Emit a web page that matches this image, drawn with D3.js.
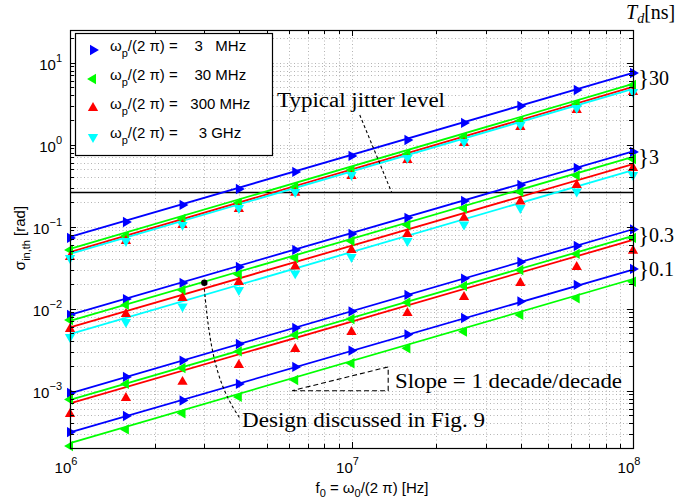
<!DOCTYPE html>
<html>
<head>
<meta charset="utf-8">
<script src="https://cdn.jsdelivr.net/npm/d3@7"></script>
<style>
body { margin: 0; background: #fff; }
text { white-space: pre; }
</style>
</head>
<body>
<script>
var width = 681;
var height = 501;
var left = 70, right = 633, top_ = 30, bottom = 448;

// f0 = omega0/(2 pi) [Hz], where the simulated points sit
var f0 = [1e6, 1.58e6, 2.51e6, 3.98e6, 6.31e6, 1e7, 1.58e7, 2.51e7, 3.98e7, 6.31e7, 1e8];

// series order: 3 MHz (blue), 30 MHz (green), 300 MHz (red), 3 GHz (cyan)
var series_labels = ["    3   MHz", "    30 MHz", "   300 MHz", "     3 GHz"];
var series_colors = ["#0000ff", "#00ff00", "#ff0000", "#00ffff"];

// theory lines, value at f0 = 1 MHz and at f0 = 100 MHz
var fit_td30_start = [0.075, 0.0535, 0.049, 0.0465];
var fit_td30_end = [7.5, 5.5, 5.05, 4.78];
var fit_td3_start = [0.0084, 0.0071, 0.0059, 0.0049];
var fit_td3_end = [0.83, 0.71, 0.58, 0.49];
var fit_td03_start = [0.00093, 0.00077, 0.0007];
var fit_td03_end = [0.093, 0.077, 0.069];
var fit_td01_start = [0.00031, 0.00023];
var fit_td01_end = [0.030, 0.023];

// simulated points
var td30_blue = [0.0728, 0.114, 0.184, 0.288, 0.465, 0.728, 1.14, 1.84, 2.96, 4.64, 7.48];
var td30_green = [0.052, 0.0769, 0.124, 0.195, 0.305, 0.491, 0.769, 1.24, 1.95, 3.13, 5.35];
var td30_red = [0.0427, 0.0668, 0.105, 0.164, 0.258, 0.415, 0.650, 1.05, 1.64, 2.65, 4.39];
var td30_cyan = [0.0415, 0.0668, 0.105, 0.169, 0.265, 0.427, 0.689, 1.08, 1.74, 2.80, 4.39];

var td3_blue = [0.00838, 0.0131, 0.0206, 0.0322, 0.052, 0.0815, 0.128, 0.206, 0.322, 0.52, 0.815];
var td3_green = [0.00728, 0.0111, 0.0169, 0.0261, 0.0415, 0.0668, 0.105, 0.167, 0.265, 0.421, 0.668];
var td3_red = [0.00565, 0.00861, 0.0135, 0.0211, 0.0327, 0.052, 0.0815, 0.128, 0.203, 0.322, 0.52];
var td3_cyan = [0.00452, 0.00689, 0.0106, 0.0169, 0.0269, 0.0427, 0.0668, 0.106, 0.169, 0.2685, 0.427];

var td03_blue = [0.000938, 0.00147, 0.00233, 0.00371, 0.00581, 0.00925, 0.0147, 0.0233, 0.0371, 0.0581, 0.0925];
var td03_green = [0.00078, 0.00121, 0.00189, 0.00301, 0.00478, 0.00748, 0.0119, 0.0189, 0.0296, 0.0465, 0.0728];
var td03_red = [0.00052, 0.000815, 0.00128, 0.00206, 0.00322, 0.0052, 0.00885, 0.0139, 0.0206, 0.0322, 0.0509];

var td01_blue = [0.000313, 0.000491, 0.000759, 0.00121, 0.00195, 0.00308, 0.00484, 0.00769, 0.01225, 0.0195, 0.0305];
var td01_green = [0.000211, 0.000337, 0.00053, 0.000838, 0.00135, 0.00216, 0.00329, 0.00524, 0.00838, 0.0134, 0.0213];

var td_labels = ["30", "3", "0.3", "0.1"];
var td_label_values = [6.4, 0.68, 0.078, 0.030];

var jitter_level = 0.26;
var design_point = [3.0e6, 0.0207];

var svg = d3.select("body")
    .append("svg")
    .attr("width", width)
    .attr("height", height)
    .style("font-family", "'Liberation Sans', Arial, sans-serif");

var x = d3.scaleLog().domain([1e6, 1e8]).range([left, right]);
var y = d3.scaleLog().domain([2e-4, 25]).range([bottom, top_]);

function is_major(t) {
    var l = Math.log10(t);
    return Math.abs(l - Math.round(l)) < 1e-6;
}

var xt = x.ticks();
var yt = y.ticks().filter(function(t) { return t >= 2e-4 * 0.999 && t <= 25; });

// dotted grid
var grid = svg.append("g")
    .attr("stroke", "#b4b4b4")
    .attr("stroke-width", 1)
    .attr("stroke-dasharray", "1,2.5");

grid.selectAll("line.gx")
    .data(xt.filter(function(t) { return t > 1e6 && t < 1e8; }))
    .enter()
    .append("line")
    .attr("class", "gx")
    .attr("x1", function(d) { return Math.round(x(d)) + 0.5; })
    .attr("x2", function(d) { return Math.round(x(d)) + 0.5; })
    .attr("y1", top_)
    .attr("y2", bottom);

grid.selectAll("line.gy")
    .data(yt)
    .enter()
    .append("line")
    .attr("class", "gy")
    .attr("x1", left)
    .attr("x2", right)
    .attr("y1", function(d) { return Math.round(y(d)) + 0.5; })
    .attr("y2", function(d) { return Math.round(y(d)) + 0.5; });

// jitter level
svg.append("line")
    .attr("x1", left)
    .attr("x2", right)
    .attr("y1", y(jitter_level))
    .attr("y2", y(jitter_level))
    .attr("stroke", "#000")
    .attr("stroke-width", 1.5);

// theory lines
var fits = [
    [fit_td30_start, fit_td30_end],
    [fit_td3_start, fit_td3_end],
    [fit_td03_start, fit_td03_end],
    [fit_td01_start, fit_td01_end]
];
fits.forEach(function(g) {
    g[0].forEach(function(v, i) {
        svg.append("line")
            .attr("x1", x(1e6))
            .attr("y1", y(v))
            .attr("x2", x(1e8))
            .attr("y2", y(g[1][i]))
            .attr("stroke", series_colors[i])
            .attr("stroke-width", 1.8);
    });
});

// markers
var rot = [90, -90, 0, 180];
var tri = d3.symbol().type(d3.symbolTriangle).size(46);

function draw_points(vals, s) {
    svg.append("g").selectAll("path")
        .data(vals)
        .enter()
        .append("path")
        .attr("d", tri)
        .attr("fill", series_colors[s])
        .attr("transform", function(d, i) {
            return "translate(" + x(f0[i]) + "," + y(d) + ") rotate(" + rot[s] + ")";
        });
}

var point_sets = [
    [td30_blue, 0], [td3_blue, 0], [td03_blue, 0], [td01_blue, 0],
    [td30_green, 1], [td3_green, 1], [td03_green, 1], [td01_green, 1],
    [td30_red, 2], [td3_red, 2], [td03_red, 2],
    [td30_cyan, 3], [td3_cyan, 3]
];
point_sets.forEach(function(p) { draw_points(p[0], p[1]); });

// ticks, on all four sides, pointing in
var ticks = svg.append("g").attr("stroke", "#000").attr("stroke-width", 1);
xt.forEach(function(t) {
    var len = is_major(t) ? 6 : 4;
    var px = Math.round(x(t)) + 0.5;
    ticks.append("line").attr("x1", px).attr("x2", px).attr("y1", bottom).attr("y2", bottom - len);
    ticks.append("line").attr("x1", px).attr("x2", px).attr("y1", top_).attr("y2", top_ + len);
});
yt.forEach(function(t) {
    var len = is_major(t) ? 6 : 4;
    var py = Math.round(y(t)) + 0.5;
    ticks.append("line").attr("x1", left).attr("x2", left + len).attr("y1", py).attr("y2", py);
    ticks.append("line").attr("x1", right).attr("x2", right - len).attr("y1", py).attr("y2", py);
});

// frame
svg.append("rect")
    .attr("x", left + 0.5)
    .attr("y", top_ + 0.5)
    .attr("width", right - left)
    .attr("height", bottom - top_)
    .attr("fill", "none")
    .attr("stroke", "#000")
    .attr("stroke-width", 1.2);

// tick labels
xt.filter(is_major).forEach(function(t) {
    var tx = svg.append("text")
        .attr("x", x(t) - 4)
        .attr("y", bottom + 25)
        .attr("text-anchor", "middle")
        .attr("font-size", "15px");
    tx.append("tspan").text("10");
    tx.append("tspan").attr("dy", -8).attr("font-size", "11px").text(Math.round(Math.log10(t)));
});
yt.filter(is_major).forEach(function(t) {
    var e = Math.round(Math.log10(t));
    var ty = svg.append("text")
        .attr("x", left - 8)
        .attr("y", y(t) + 7)
        .attr("text-anchor", "end")
        .attr("font-size", "15px");
    ty.append("tspan").text("10");
    ty.append("tspan").attr("dy", -8).attr("font-size", "11px").text(String(e).replace("-", "\u2212"));
});

// axis labels
var xl = svg.append("text")
    .attr("x", 372)
    .attr("y", 493)
    .attr("text-anchor", "middle")
    .attr("font-size", "15px");
xl.append("tspan").text("f");
xl.append("tspan").attr("dy", 4).attr("font-size", "11px").text("0");
xl.append("tspan").attr("dy", -4).text(" = \u03c9");
xl.append("tspan").attr("dy", 4).attr("font-size", "11px").text("0");
xl.append("tspan").attr("dy", -4).text("/(2 \u03c0) [Hz]");

var yl = svg.append("text")
    .attr("transform", "translate(25,238) rotate(-90)")
    .attr("text-anchor", "middle")
    .attr("font-size", "15px");
yl.append("tspan").text("\u03c3");
yl.append("tspan").attr("dy", 5).attr("font-size", "11px").text("in,th");
yl.append("tspan").attr("dy", -5).text(" [rad]");

// legend
var lg = svg.append("g");
lg.append("rect")
    .attr("x", 75.5)
    .attr("y", 33.5)
    .attr("width", 197)
    .attr("height", 122)
    .attr("fill", "#fff")
    .attr("stroke", "#000")
    .attr("stroke-width", 1.2);
series_labels.forEach(function(n, i) {
    var ly = 50 + i * 29;
    lg.append("path")
        .attr("d", tri)
        .attr("fill", series_colors[i])
        .attr("transform", "translate(93," + ly + ") rotate(" + rot[i] + ")");
    var t = lg.append("text")
        .attr("x", 110)
        .attr("y", ly + 1)
        .attr("font-size", "15px");
    t.append("tspan").text("\u03c9");
    t.append("tspan").attr("dy", 6).attr("font-size", "11px").text("p");
    t.append("tspan").attr("dy", -6).text("/(2 \u03c0) =" + n);
});

// annotations
var serif = "'Liberation Serif', 'DejaVu Serif', serif";

var td = svg.append("text")
    .attr("x", 626)
    .attr("y", 19)
    .attr("font-family", serif)
    .attr("font-size", "20px");
td.append("tspan").attr("font-style", "italic").text("T");
td.append("tspan").attr("dy", 4).attr("font-size", "14px").attr("font-style", "italic").text("d");
td.append("tspan").attr("dy", -4).text("[ns]");

td_labels.forEach(function(l, i) {
    var t = svg.append("text")
        .attr("x", 638)
        .attr("y", y(td_label_values[i]) + 6)
        .attr("font-family", serif)
        .attr("font-size", "20px");
    t.append("tspan").attr("font-size", "23px").attr("dy", 1).text("}");
    t.append("tspan").attr("dy", -1).text(l);
});

function note(txt, x0, y0, len) {
    svg.append("text")
        .attr("x", x0)
        .attr("y", y0)
        .attr("font-family", serif)
        .attr("font-size", "20px")
        .attr("textLength", len)
        .attr("lengthAdjust", "spacingAndGlyphs")
        .text(txt);
}

note("Typical jitter level", 277, 107, 168);

svg.append("line")
    .attr("x1", x(1.07e7))
    .attr("y1", y(2.3))
    .attr("x2", x(1.39e7))
    .attr("y2", y(jitter_level))
    .attr("stroke", "#000")
    .attr("stroke-width", 1.1)
    .attr("stroke-dasharray", "3,2.5");

note("Slope = 1 decade/decade", 395, 388, 227);

var slope_tri = [[6.15e6, 1e-3], [1.35e7, 1e-3], [1.35e7, 1.95e-3], [6.15e6, 1e-3]];
svg.append("path")
    .attr("d", d3.line().x(function(d) { return x(d[0]); }).y(function(d) { return y(d[1]); })(slope_tri))
    .attr("fill", "none")
    .attr("stroke", "#000")
    .attr("stroke-width", 1.1)
    .attr("stroke-dasharray", "5,3");

var design_curve = [[3.0e6, 0.0175], [3.1e6, 0.0055], [3.3e6, 0.0018], [3.64e6, 0.00077], [4.0e6, 0.00047]];
svg.append("path")
    .attr("d", d3.line().curve(d3.curveBasis).x(function(d) { return x(d[0]); }).y(function(d) { return y(d[1]); })(design_curve))
    .attr("fill", "none")
    .attr("stroke", "#000")
    .attr("stroke-width", 1.1)
    .attr("stroke-dasharray", "3,2.5");

svg.append("circle")
    .attr("cx", x(design_point[0]))
    .attr("cy", y(design_point[1]))
    .attr("r", 3.2)
    .attr("fill", "#000");

note("Design discussed in Fig. 9", 242, 427, 243);
</script>
</body>
</html>
